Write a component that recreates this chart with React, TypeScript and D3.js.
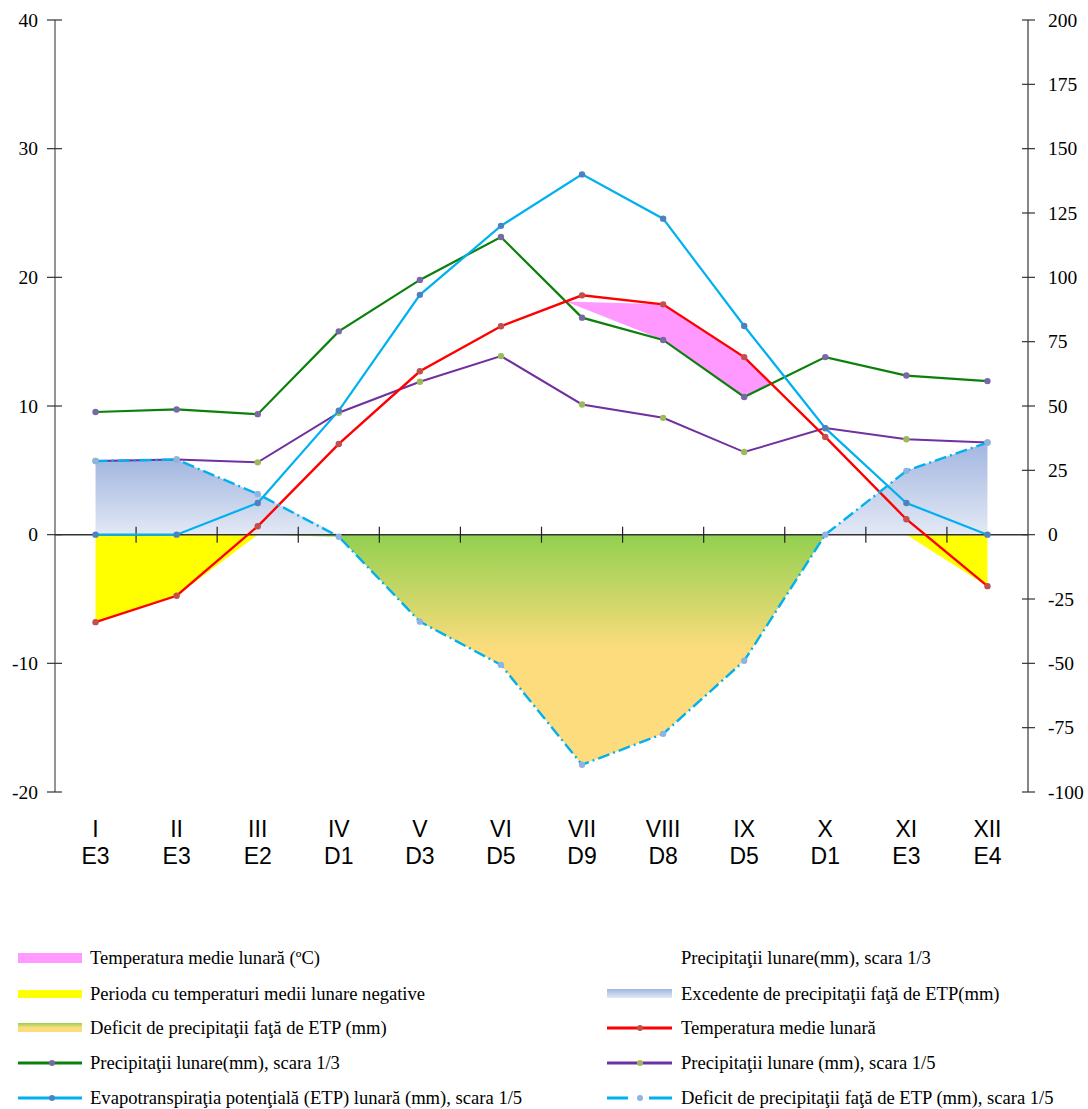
import React from "react";
import * as d3 from "d3";

const months = ["I", "II", "III", "IV", "V", "VI", "VII", "VIII", "IX", "X", "XI", "XII"];
const classes = ["E3", "E3", "E2", "D1", "D3", "D5", "D9", "D8", "D5", "D1", "E3", "E4"];
// mean monthly temperature (°C)
const temperature = [-6.8, -4.75, 0.65, 7.05, 12.7, 16.2, 18.6, 17.9, 13.8, 7.6, 1.2, -4.0];
// monthly precipitation (mm)
const precipitation = [28.6, 29.2, 28.1, 47.4, 59.4, 69.4, 50.6, 45.4, 32.1, 41.4, 37.1, 35.8];
// potential evapotranspiration (mm)
const etp = [0, 0, 12.3, 48.2, 93.2, 120, 140, 122.8, 81.1, 41.4, 12.3, 0];

const leftTicks = [-20, -10, 0, 10, 20, 30, 40];
const rightTicks = [-100, -75, -50, -25, 0, 25, 50, 75, 100, 125, 150, 175, 200];

const leftLegend = [
  "Temperatura medie lunară (ºC)",
  "Perioda cu temperaturi medii lunare negative",
  "Deficit de precipitaţii faţă de ETP (mm)",
  "Precipitaţii lunare(mm), scara 1/3",
  "Evapotranspiraţia potenţială (ETP) lunară (mm), scara 1/5",
];
const rightLegend = [
  "Precipitaţii lunare(mm), scara 1/3",
  "Excedente de precipitaţii faţă de ETP(mm)",
  "Temperatura medie lunară",
  "Precipitaţii lunare (mm), scara 1/5",
  "Deficit de precipitaţii faţă de ETP (mm), scara 1/5",
];

const C = {
  red: "#FF0000",
  redDot: "#C0504D",
  green: "#0B800B",
  greenDot: "#7A68A6",
  purple: "#7030A0",
  purpleDot: "#9BBB59",
  blue: "#00B0F0",
  blueDot: "#4F81BD",
  dashDot: "#8EB4E3",
  pink: "#FF99FF",
  yellow: "#FFFF00",
};

export default function App() {
  const W = 1088, H = 1109;
  const x0 = 55, x1 = 1028;
  const xb = d3.scaleBand<string>().domain(months).range([x0, x1]).padding(0);
  const bw = xb.bandwidth();
  const xc = (i: number) => (xb(months[i]) as number) + bw / 2;
  const yL = d3.scaleLinear().domain([-20, 40]).range([792, 20]);
  const yR = d3.scaleLinear().domain([-100, 200]).range([792, 20]);

  const p3 = precipitation.map((p) => p / 3);
  const p5 = precipitation.map((p) => p / 5);
  const e5 = etp.map((e) => e / 5);
  const diff = precipitation.map((p, i) => (p - etp[i]) / 5);

  const idx = months.map((_, i) => i);
  const line = (vals: number[]) =>
    d3.line<number>().x((i) => xc(i)).y((i) => yL(vals[i]))(idx) as string;

  const areaFromZero = (vals: number[]) =>
    d3.area<number>().x((i) => xc(i)).y0(yL(0)).y1((i) => yL(vals[i]))(idx) as string;

  const negT = temperature.map((t) => Math.min(t, 0));
  const posD = diff.map((d) => Math.max(d, 0));
  const negD = diff.map((d) => Math.min(d, 0));
  const excessLeft = idx.map((i) => (i <= 4 ? posD[i] : 0));

  // region where temperature > precipitation/3 (with true intersections)
  const pinkPolys: [number, number][][] = [];
  {
    let upper: [number, number][] = [];
    let lower: [number, number][] = [];
    for (let i = 0; i < 11; i++) {
      const da = temperature[i] - p3[i];
      const db = temperature[i + 1] - p3[i + 1];
      if (da > 0 && upper.length === 0) {
        upper.push([xc(i), yL(temperature[i])]);
        lower.push([xc(i), yL(p3[i])]);
      }
      if ((da > 0) !== (db > 0)) {
        const t = da / (da - db);
        const xx = xc(i) + t * (xc(i + 1) - xc(i));
        const yy = yL(temperature[i] + t * (temperature[i + 1] - temperature[i]));
        if (db > 0) {
          upper = [[xx, yy]];
          lower = [[xx, yy]];
        } else {
          upper.push([xx, yy]);
          pinkPolys.push([...upper, ...lower.reverse()]);
          upper = [];
          lower = [];
        }
      } else if (db > 0) {
        upper.push([xc(i + 1), yL(temperature[i + 1])]);
        lower.push([xc(i + 1), yL(p3[i + 1])]);
      }
    }
    if (upper.length) pinkPolys.push([...upper, ...lower.reverse()]);
  }

  const serif = "'Liberation Serif', 'Times New Roman', serif";
  const sans = "'Liberation Sans', Arial, sans-serif";

  const series = [
    { vals: p3, color: C.green, dot: C.greenDot, w: 2.2, dash: undefined as string | undefined },
    { vals: p5, color: C.purple, dot: C.purpleDot, w: 2, dash: undefined },
    { vals: e5, color: C.blue, dot: C.blueDot, w: 2.2, dash: undefined },
    { vals: temperature, color: C.red, dot: C.redDot, w: 2.4, dash: undefined },
    { vals: diff, color: C.blue, dot: C.dashDot, w: 2.4, dash: "12,4,2,4" },
  ];

  const legRows = [958, 994, 1028, 1063, 1098];

  return (
    <svg width={W} height={H} style={{ position: "absolute", left: 0, top: 0, background: "#fff" }}>
      <defs>
        <linearGradient id="excessGrad" x1="0" y1="0" x2="0" y2="1">
          <stop offset="0" stopColor="#A2B6E0" />
          <stop offset="1" stopColor="#E3E9F5" />
        </linearGradient>
        <linearGradient id="deficitGrad" x1="0" y1="0" x2="0" y2="1">
          <stop offset="0" stopColor="#92D050" />
          <stop offset="0.5" stopColor="#FCDC7C" />
          <stop offset="1" stopColor="#FDDC7D" />
        </linearGradient>
      </defs>

      {/* areas */}
      <path d={areaFromZero(negT)} fill={C.yellow} />
      <path d={areaFromZero(excessLeft)} fill="url(#excessGrad)" />
      <path d={areaFromZero(idx.map((i) => (i >= 8 ? posD[i] : 0)))} fill="url(#excessGrad)" />
      <path d={areaFromZero(negD)} fill="url(#deficitGrad)" />
      {pinkPolys.map((poly, k) => (
        <path key={k} d={"M" + poly.map((p) => p.join(",")).join("L") + "Z"} fill={C.pink} />
      ))}

      {/* axes */}
      <line x1={x0} x2={x0} y1={yL(40)} y2={yL(-20)} stroke="#7a7a7a" strokeWidth={1.6} />
      {leftTicks.map((t) => (
        <g key={t}>
          <line x1={x0 - 8} x2={x0 + 7} y1={yL(t)} y2={yL(t)} stroke="#333" strokeWidth={1.2} />
          <text x={38} y={yL(t) + 6.5} textAnchor="end" fontFamily={serif} fontSize={19.5} fill="#000">
            {t}
          </text>
        </g>
      ))}
      <line x1={x1} x2={x1} y1={yR(200)} y2={yR(-100)} stroke="#444" strokeWidth={1.3} />
      {rightTicks.map((t) => (
        <g key={t}>
          <line x1={x1 - 6} x2={x1 + 7} y1={yR(t)} y2={yR(t)} stroke="#333" strokeWidth={1.2} />
          <text x={1048} y={yR(t) + 6.5} textAnchor="start" fontFamily={serif} fontSize={19.5} fill="#000">
            {t}
          </text>
        </g>
      ))}
      <line x1={x0} x2={x1} y1={yL(0)} y2={yL(0)} stroke="#333" strokeWidth={1.5} />
      {months.slice(1).map((m) => (
        <line key={m} x1={xb(m)} x2={xb(m)} y1={yL(0) - 8} y2={yL(0) + 8} stroke="#222" strokeWidth={1.2} />
      ))}

      {/* lines */}
      {series.map((s, k) => (
        <g key={k}>
          <path d={line(s.vals)} fill="none" stroke={s.color} strokeWidth={s.w} strokeDasharray={s.dash} />
          {idx.map((i) => (
            <circle key={i} cx={xc(i)} cy={yL(s.vals[i])} r={3.2} fill={s.dot} />
          ))}
        </g>
      ))}

      {/* category labels */}
      {months.map((m, i) => (
        <g key={m}>
          <text x={xc(i)} y={837} textAnchor="middle" fontFamily={sans} fontSize={23} fill="#000">
            {m}
          </text>
          <text x={xc(i)} y={864} textAnchor="middle" fontFamily={sans} fontSize={23} fill="#000">
            {classes[i]}
          </text>
        </g>
      ))}

      {/* legend left */}
      <rect x={18} y={legRows[0] - 5} width={64} height={10} fill={C.pink} />
      <rect x={18} y={legRows[1] - 4} width={64} height={8} fill={C.yellow} />
      <rect x={18} y={legRows[2] - 5} width={64} height={9} fill="url(#deficitGrad)" />
      <line x1={18} x2={82} y1={legRows[3]} y2={legRows[3]} stroke={C.green} strokeWidth={3} />
      <circle cx={52} cy={legRows[3]} r={3} fill={C.greenDot} />
      <line x1={18} x2={82} y1={legRows[4]} y2={legRows[4]} stroke={C.blue} strokeWidth={3} />
      <circle cx={52} cy={legRows[4]} r={3} fill={C.blueDot} />
      {leftLegend.map((t, i) => (
        <text key={i} x={90} y={legRows[i] + 6} fontFamily={serif} fontSize={18.6} fill="#000">
          {t}
        </text>
      ))}

      {/* legend right */}
      <rect x={607} y={legRows[1] - 5} width={65} height={9} fill="url(#excessGrad)" />
      <line x1={607} x2={672} y1={legRows[2]} y2={legRows[2]} stroke={C.red} strokeWidth={3} />
      <circle cx={640} cy={legRows[2]} r={3} fill={C.redDot} />
      <line x1={607} x2={672} y1={legRows[3]} y2={legRows[3]} stroke={C.purple} strokeWidth={3} />
      <circle cx={640} cy={legRows[3]} r={3} fill={C.purpleDot} />
      <line x1={607} x2={672} y1={legRows[4]} y2={legRows[4]} stroke={C.blue} strokeWidth={3} strokeDasharray="21,10,3,8,25" />
      <circle cx={640} cy={legRows[4]} r={3} fill={C.dashDot} />
      {rightLegend.map((t, i) => (
        <text key={i} x={681} y={legRows[i] + 6} fontFamily={serif} fontSize={18.6} fill="#000">
          {t}
        </text>
      ))}
    </svg>
  );
}
